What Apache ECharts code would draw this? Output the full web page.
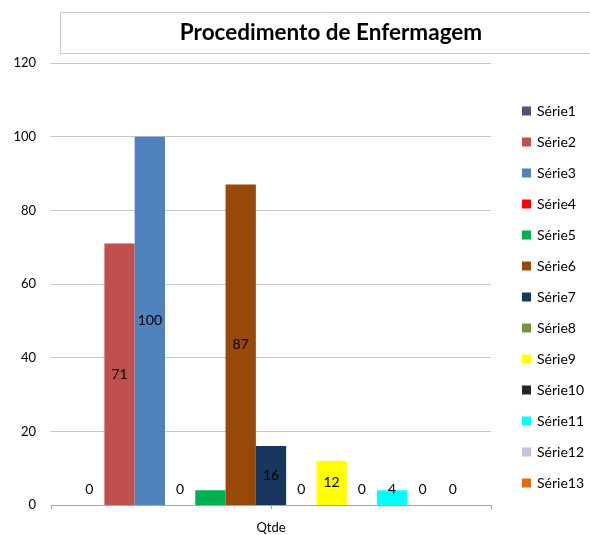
<!DOCTYPE html>
<html>
<head>
<meta charset="utf-8">
<script src="https://cdn.jsdelivr.net/npm/echarts@6/dist/echarts.min.js"></script>
<style>
    html, body { margin: 0; padding: 0; background: #fff; }
    #chart { width: 590px; height: 535px; }
</style>
</head>
<body>
<div id="chart"></div>
<script>
var categories = ['Qtde'];
var seriesNames = ['Série1', 'Série2', 'Série3', 'Série4', 'Série5', 'Série6', 'Série7',
    'Série8', 'Série9', 'Série10', 'Série11', 'Série12', 'Série13'];
var seriesValues = [0, 71, 100, 0, 4, 87, 16, 0, 12, 0, 4, 0, 0];
var yTicks = [0, 20, 40, 60, 80, 100, 120];
var colors = ['#604A7B', '#C0504D', '#4F81BD', '#FF0000', '#00B050', '#984807', '#17375E',
    '#77933C', '#FFFF00', '#262626', '#00FFFF', '#CCC1DA', '#E46C0A'];

var font = 'Lato, "Open Sans", sans-serif';

var chart = echarts.init(document.getElementById('chart'));

var series = [];
for (var i = 0; i < seriesNames.length; i++) {
    var v = seriesValues[i];
    var label = { show: true, color: '#000', fontFamily: font, fontSize: 14 };
    if (v >= 10) {
        label.position = 'inside';
    } else {
        // small / zero bars: label sits a little above the axis (like excel)
        label.position = 'insideBottom';
        label.offset = [0, -4];
    }
    if (i === 4) label.show = false; // excel hid this one
    series.push({
        name: seriesNames[i],
        type: 'bar',
        data: [v],
        barGap: '0%',
        barCategoryGap: '10.5%',
        itemStyle: { color: colors[i] },
        label: label
    });
}

var option = {
    animation: false,
    color: colors,
    textStyle: { fontFamily: font },
    graphic: [{
        type: 'rect',
        shape: { x: 60.5, y: 12.5, width: 560, height: 41 },
        style: { fill: '#fff', stroke: '#c8c8c8', lineWidth: 1 }
    }, {
        type: 'text',
        x: 331, y: 33,
        style: {
            text: 'Procedimento de Enfermagem', fontFamily: font, fontWeight: 'bold', fontSize: 22.5,
            fill: '#000', align: 'center', verticalAlign: 'middle'
        }
    }],
    legend: {
        orient: 'vertical',
        left: 522,
        top: 104,
        padding: 0,
        itemWidth: 9,
        itemHeight: 9,
        itemGap: 17,
        icon: 'rect',
        textStyle: { fontFamily: font, fontSize: 14, color: '#000', lineHeight: 14, padding: [0, 0, 0, 1] },
        data: seriesNames
    },
    grid: { left: 51, right: 99, top: 63, bottom: 30 },
    xAxis: [{
        type: 'category',
        data: categories,
        axisLine: { show: true, lineStyle: { color: '#a6a6a6', width: 1 } },
        axisTick: { show: false },
        axisLabel: { color: '#000', fontFamily: font, fontSize: 13, margin: 16 }
    }, {
        type: 'value',
        position: 'bottom',
        min: 0, max: 2, interval: 1,
        axisLine: { show: false },
        axisTick: { show: true, length: 4, lineStyle: { color: '#a6a6a6' } },
        axisLabel: { show: false },
        splitLine: { show: false }
    }],
    yAxis: {
        type: 'value',
        min: yTicks[0],
        max: yTicks[yTicks.length - 1],
        interval: 20,
        axisLine: { show: false },
        axisTick: { show: false },
        axisLabel: { color: '#000', fontFamily: font, fontSize: 13, margin: 15 },
        splitLine: { lineStyle: { color: '#c8c8c8', width: 1 } }
    },
    series: series
};
chart.setOption(option);
</script>
</body>
</html>
